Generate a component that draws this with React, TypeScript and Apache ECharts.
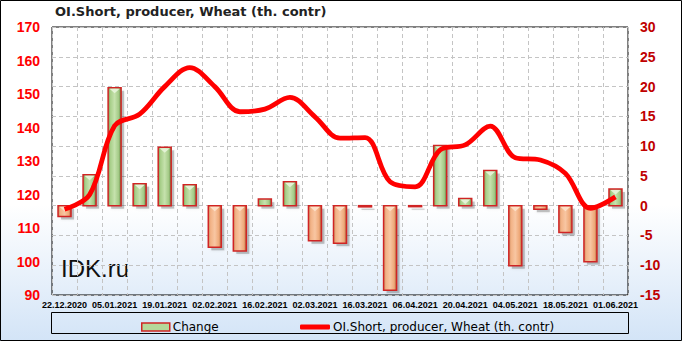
import React, { useEffect, useRef } from "react";
import * as echarts from "echarts";

const dates = [
  "22.12.2020", "29.12.2020", "05.01.2021", "12.01.2021", "19.01.2021", "26.01.2021",
  "02.02.2021", "09.02.2021", "16.02.2021", "23.02.2021", "02.03.2021", "09.03.2021",
  "16.03.2021", "30.03.2021", "06.04.2021", "13.04.2021", "20.04.2021", "27.04.2021",
  "04.05.2021", "11.05.2021", "18.05.2021", "25.05.2021", "01.06.2021",
];
const change = [
  -1.8, 5.2, 19.8, 3.7, 9.8, 3.5, -7.0, -7.6, 1.1, 4.0, -5.9, -6.3,
  -0.2, -14.2, -0.1, 10.1, 1.2, 5.9, -10.1, -0.6, -4.5, -9.4, 2.8,
];
const oiShort = [
  115.6, 119.9, 140.5, 144.0, 152.2, 157.9, 152.2, 144.7, 145.5, 149.0, 143.2, 136.8,
  137.0, 123.8, 122.3, 133.3, 134.8, 140.4, 131.0, 130.3, 126.3, 115.9, 119.3,
];
const leftTicks = { min: 90, max: 170, interval: 10 };
const rightTicks = { min: -15, max: 30, interval: 5 };

const TITLE = "OI.Short, producer, Wheat (th. contr)";
const CHANGE_NAME = "Change";

export default function App() {
  const ref = useRef<HTMLDivElement>(null);
  useEffect(() => {
    document.body.style.margin = "0";
    const chart = echarts.init(ref.current!, undefined, { renderer: "svg" });
    const greenFill = () =>
      new echarts.graphic.LinearGradient(0, 0, 1, 0, [
        { offset: 0, color: "#7c9f55" },
        { offset: 0.18, color: "#a8cf8a" },
        { offset: 0.5, color: "#c6e2ad" },
        { offset: 0.82, color: "#a2c985" },
        { offset: 1, color: "#5f7f3f" },
      ]);
    const orangeFill = () =>
      new echarts.graphic.LinearGradient(0, 0, 1, 0, [
        { offset: 0, color: "#c98a5e" },
        { offset: 0.18, color: "#f2b286" },
        { offset: 0.5, color: "#f8c6a2" },
        { offset: 0.82, color: "#eea878" },
        { offset: 1, color: "#a8663a" },
      ]);
    const BAR_W = 13;
    const renderBar = (params: any, api: any) => {
      const idx = api.value(0);
      const v = api.value(1);
      const p0 = api.coord([idx, 0]);
      const p1 = api.coord([idx, v]);
      const x = p0[0] - BAR_W / 2;
      const top = Math.min(p0[1], p1[1]);
      const h = Math.max(Math.abs(p1[1] - p0[1]), 1);
      const pos = v >= 0;
      const children: any[] = [
        {
          type: "rect",
          shape: { x: x + 3, y: top + 3, width: BAR_W, height: h },
          style: { fill: "rgba(60,60,60,0.28)", shadowBlur: 3, shadowColor: "rgba(0,0,0,0.3)" },
        },
        {
          type: "rect",
          shape: { x, y: top, width: BAR_W, height: h },
          style: { fill: pos ? greenFill() : orangeFill(), stroke: "#d02424", lineWidth: 1.5 },
        },
      ];
      if (h > 7) {
        children.push({
          type: "polygon",
          shape: {
            points: [
              [x + 1.5, top + 1],
              [x + BAR_W - 1.5, top + 1],
              [x + BAR_W / 2, top + 5.5],
            ],
          },
          style: { fill: pos ? "#e4f2d6" : "#fde0c8" },
        });
      }
      return { type: "group", children };
    };
    const axisFont = "Liberation Sans";
    chart.setOption({
      animation: false,
      backgroundColor: new echarts.graphic.LinearGradient(0, 0, 0, 1, [
        { offset: 0, color: "#ffffff" },
        { offset: 0.6, color: "#ffffff" },
        { offset: 1, color: "#d3e4f7" },
      ]),
      grid: {
        left: 52,
        right: 54,
        top: 27,
        bottom: 46,
        show: true,
        borderColor: "#000",
        borderWidth: 1,
        backgroundColor: "transparent",
      },
      legend: [
        {
          data: [{ name: CHANGE_NAME, icon: "rect" }],
          left: 136,
          top: 316,
          itemWidth: 28,
          itemHeight: 8,
          itemStyle: { color: "#b5d89a", borderColor: "#d02424", borderWidth: 1.5 },
          textStyle: { fontFamily: "DejaVu Sans", fontSize: 12, color: "#000", padding: [0, 0, 0, -2] },
        },
        {
          data: [{ name: TITLE, icon: "roundRect" }],
          left: 295,
          top: 316,
          itemWidth: 30,
          itemHeight: 5,
          textStyle: { fontFamily: "DejaVu Sans", fontSize: 12, color: "#000", padding: [0, 0, 0, -2] },
        },
      ],
      xAxis: {
        type: "category",
        data: dates,
        boundaryGap: true,
        axisLine: { show: false },
        axisTick: { show: false },
        axisLabel: {
          interval: 1,
          hideOverlap: false,
          showMinLabel: true,
          showMaxLabel: true,
          fontFamily: axisFont,
          fontWeight: "bold",
          fontSize: 9,
          color: "#000",
          margin: 5,
        },
        splitLine: {
          show: true,
          interval: 0,
          lineStyle: { color: "#c4c4c4", type: [4, 3], width: 1 },
        },
      },
      yAxis: [
        {
          type: "value",
          position: "left",
          min: leftTicks.min,
          max: leftTicks.max,
          interval: leftTicks.interval,
          axisLine: { show: false },
          axisTick: { show: false },
          splitLine: { show: false },
          axisLabel: {
            fontFamily: axisFont,
            fontWeight: "bold",
            fontSize: 14,
            color: "#ff0000",
            margin: 12,
          },
        },
        {
          type: "value",
          position: "right",
          min: rightTicks.min,
          max: rightTicks.max,
          interval: rightTicks.interval,
          axisLine: { show: false },
          axisTick: { show: false },
          splitLine: {
            show: true,
            lineStyle: { color: "#c4c4c4", type: [4, 3], width: 1 },
          },
          axisLabel: {
            fontFamily: axisFont,
            fontWeight: "bold",
            fontSize: 14,
            color: "#c00000",
            margin: 12,
          },
        },
      ],
      series: [
        {
          name: CHANGE_NAME,
          type: "custom",
          yAxisIndex: 1,
          renderItem: renderBar,
          itemStyle: { color: "#b5d89a", borderColor: "#d02424", borderWidth: 1.5 },
          encode: { x: 0, y: 1 },
          data: change.map((v, i) => [i, v]),
          z: 2,
        },
        {
          name: TITLE,
          type: "line",
          yAxisIndex: 0,
          data: oiShort,
          smooth: 0.35,
          symbol: "none",
          itemStyle: { color: "#ff0000" },
          lineStyle: {
            color: "#ff0000",
            width: 4.8,
          },
          z: 3,
        },
      ],
      graphic: [
        {
          type: "rect",
          shape: { x: 0.5, y: 0.5, width: 681, height: 340 },
          style: { fill: "transparent", stroke: "#000", lineWidth: 1 },
          silent: true,
        },
        {
          type: "rect",
          shape: { x: 51.5, y: 312.5, width: 577, height: 21 },
          style: { fill: "transparent", stroke: "#000", lineWidth: 1 },
          silent: true,
        },
        {
          type: "text",
          x: 55,
          y: 5,
          style: {
            text: TITLE,
            fontFamily: "DejaVu Sans",
            fontWeight: "bold",
            fontSize: 13,
            fill: "#222",
          },
        },
        {
          type: "text",
          x: 61,
          y: 256,
          style: {
            text: "IDK.ru",
            fontFamily: axisFont,
            fontSize: 24,
            fill: "#111",
          },
        },
      ],
    });
    return () => chart.dispose();
  }, []);
  return <div ref={ref} style={{ width: 682, height: 341 }} />;
}
